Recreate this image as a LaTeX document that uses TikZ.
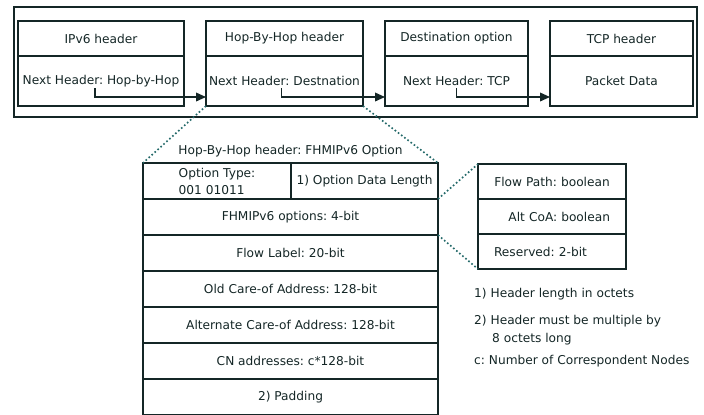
\documentclass[tikz,border=0pt]{standalone}
\usepackage{fontspec}
\setmainfont{DejaVu Sans}
\usetikzlibrary{arrows.meta, positioning}
\definecolor{ink}{RGB}{20,38,38}
\definecolor{dotc}{RGB}{35,105,105}
\frenchspacing

\begin{document}
\begin{tikzpicture}[x=0.03cm, y=-0.03cm, font=\fontsize{10.4}{12}\selectfont,
    cell/.style={draw=ink, line width=1.3pt, text=ink, inner sep=0pt, outer sep=0pt, anchor=north west},
    link/.style={draw=ink, line width=1.3pt, -{Triangle[length=3mm,width=2.6mm]}},
    zoomline/.style={draw=dotc, line width=1.4pt, dotted},
    note/.style={anchor=west, text=ink, inner sep=0pt}]
  \useasboundingbox (0,0) rectangle (704,414);

  % Packet with the chain of extension headers
  \draw[ink, line width=2pt] (14,7) rectangle (697,117);
  \node[cell, minimum width=4.98cm, minimum height=1.05cm] (ipv6h) at (18,21) {IPv6 header};
  \node[cell, minimum width=4.98cm, minimum height=1.5cm] (ipv6b) at (ipv6h.south west) {Next Header: Hop-by-Hop};
  \node[cell, minimum width=4.71cm, minimum height=1.05cm] (hoph) at (206,21) {Hop-By-Hop header};
  \node[cell, minimum width=4.71cm, minimum height=1.5cm] (hopb) at (hoph.south west) {Next Header: Destnation};
  \node[cell, minimum width=4.29cm, minimum height=1.05cm] (desth) at (385,21) {Destination option};
  \node[cell, minimum width=4.29cm, minimum height=1.5cm] (destb) at (desth.south west) {Next Header: TCP};
  \node[cell, minimum width=4.29cm, minimum height=1.05cm] (tcph) at (550,21) {TCP header};
  \node[cell, minimum width=4.29cm, minimum height=1.5cm] (tcpb) at (tcph.south west) {Packet Data};

  % next header pointers
  \draw[link] ([shift={(-6,7)}]ipv6b.center) |- ([shift={(0,-9)}]hopb.south west);
  \draw[link] ([shift={(-3,7)}]hopb.center) |- ([shift={(0,-9)}]destb.south west);
  \draw[link] ([shift={(0,7)}]destb.center) |- ([shift={(0,-9)}]tcpb.south west);

  % FHMIPv6 option layout
  \node[text=ink] (opttitle) at (290.5,151) {Hop-By-Hop header: FHMIPv6 Option};
  \node[cell, minimum width=4.44cm, minimum height=1.08cm, align=left,
        font=\fontsize{10.4}{14.5}\selectfont] (otype) at (143,163) {Option Type:\\001 01011};
  \node[cell, minimum width=4.41cm, minimum height=1.08cm] (olen) at (291,163) {1) Option Data Length};
  \foreach \txt [count=\i] in {FHMIPv6 options: 4-bit, Flow Label: 20-bit,
      Old Care-of Address: 128-bit, Alternate Care-of Address: 128-bit,
      CN addresses: c*128-bit, 2) Padding}
    \node[cell, minimum width=8.85cm, minimum height=1.08cm] (row\i) at (143,{163+36*\i}) {\txt};

  % flags inside the options field
  \node[cell, minimum width=4.44cm, minimum height=1.05cm, text width=3.48cm, align=center] (flow) at (478,164) {Flow Path: boolean};
  \node[cell, minimum width=4.44cm, minimum height=1.05cm, text width=3.48cm, align=right] (altcoa) at (flow.south west) {Alt CoA: boolean};
  \node[cell, minimum width=4.44cm, minimum height=1.05cm, text width=3.48cm, align=left] (resv) at (altcoa.south west) {Reserved: 2-bit};

  % zoom lines
  \draw[zoomline] (hopb.south west) -- (otype.north west);
  \draw[zoomline] (hopb.south east) -- (olen.north east);
  \draw[zoomline] (olen.south east) -- (flow.north west);
  \draw[zoomline] (row1.south east) -- (resv.south west);

  % footnotes
  \node[note] (note1) at (474,294) {1) Header length in octets};
  \node[note] (note2) at (474,321) {2) Header must be multiple by};
  \node[note] (note2b) at (492,339) {8 octets long};
  \node[note] (note3) at (474,361) {c: Number of Correspondent Nodes};
\end{tikzpicture}
\end{document}
